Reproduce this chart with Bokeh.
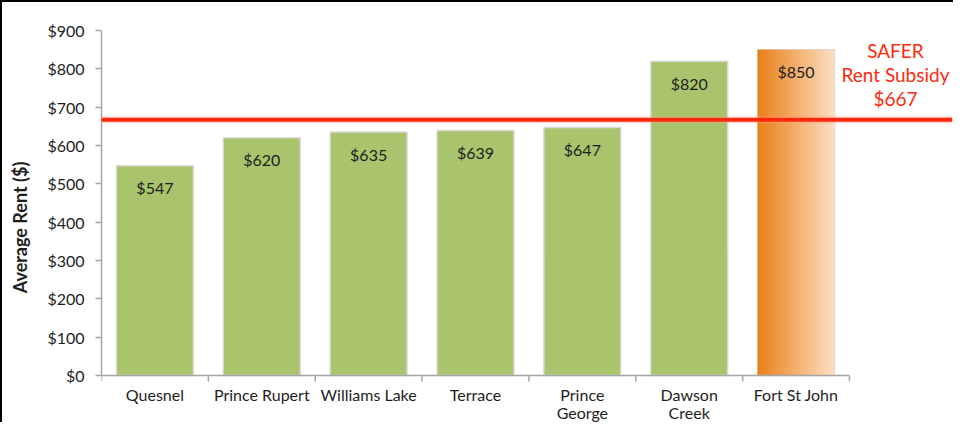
from bokeh.plotting import figure
from bokeh.models import Range1d, FixedTicker, Span, PrintfTickFormatter
from bokeh.core.properties import value
from bokeh.embed import file_html
from bokeh.resources import INLINE

# ---------------- data ----------------
cities = ["Quesnel", "Prince Rupert", "Williams Lake", "Terrace",
          "Prince George", "Dawson Creek", "Fort St John"]
city_labels = ["Quesnel", "Prince Rupert", "Williams Lake", "Terrace",
               "Prince\nGeorge", "Dawson\nCreek", "Fort St John"]
rents = [547, 620, 635, 639, 647, 820, 850]
highlight = "Fort St John"
subsidy = 667
subsidy_lines = ["SAFER", "Rent Subsidy", "$" + str(subsidy)]
y_ticks = [0, 100, 200, 300, 400, 500, 600, 700, 800, 900]
y_label = "Average Rent ($)"

# ---------------- style / layout ----------------
FONT = "Lato"
GREEN = "#A9C46C"
TXT = "#1E1E1E"
AXIS = "#A6A6A6"
RED = "#FF2A0D"
BAR_W = 0.72
GRAD_L = (233, 128, 24)
GRAD_R = (252, 222, 194)
Y_TOP = y_ticks[-1]
PX_PLOT = 345          # pixels between $0 and $900
PX_BELOW = 49          # pixels of frame below the $0 line (category labels)
units_per_px = Y_TOP / PX_PLOT
Y_MIN = -PX_BELOW * units_per_px
TICK_LEN = 6 * units_per_px

n = len(cities)
xs = list(range(n))

p = figure(width=953, height=422, output_backend="svg", toolbar_location=None,
           x_range=Range1d(-0.5, n - 0.5 + 0.964), y_range=Range1d(Y_MIN, Y_TOP),
           x_axis_location=None,
           min_border_left=99, min_border_right=3, min_border_top=28,
           min_border_bottom=0)
p.styles = {"border-left": "2px solid black", "border-top": "2px solid black"}
p.outline_line_color = None
p.xgrid.grid_line_color = None
p.ygrid.grid_line_color = None
p.background_fill_color = "white"
p.border_fill_color = "white"

# green bars
gx = [x for x, c in zip(xs, cities) if c != highlight]
gy = [r for r, c in zip(rents, cities) if c != highlight]
p.vbar(x=gx, top=gy, bottom=0, width=BAR_W, fill_color=GREEN,
       line_color="#DADADA", line_width=1.5)

# gradient (highlighted) bar made of thin strips
hi = cities.index(highlight)
hv = rents[hi]
p.vbar(x=[hi], top=[hv], bottom=0, width=BAR_W, fill_color=None,
       line_color="#DADADA", line_width=1.5)
steps = 60
lefts, rights, cols = [], [], []
for k in range(steps):
    t = k / (steps - 1)
    rgb = tuple(int(round(a + (b - a) * t)) for a, b in zip(GRAD_L, GRAD_R))
    l = hi - BAR_W / 2 + k * BAR_W / steps
    lefts.append(l)
    rights.append(min(l + BAR_W / steps * 1.6, hi + BAR_W / 2))
    cols.append("#%02x%02x%02x" % rgb)
p.quad(left=lefts, right=rights, top=[hv] * steps, bottom=[0] * steps,
       fill_color=cols, line_color=None)

# category axis (line, boundary ticks, labels)
bounds = [x - 0.5 for x in range(n + 1)]
p.segment(x0=[bounds[0]], y0=[0], x1=[bounds[-1]], y1=[0],
          line_color=AXIS, line_width=1.5)
p.segment(x0=bounds, y0=[0] * len(bounds), x1=bounds,
          y1=[-TICK_LEN] * len(bounds), line_color=AXIS, line_width=1.5)
p.text(x=xs, y=[0] * n, text=city_labels, y_offset=9,
       text_align="center", text_baseline="top", text_font=value(FONT),
       text_font_size="16px", text_color=TXT, text_line_height=0.95)

# value labels
p.text(x=xs, y=rents, text=["$" + str(v) for v in rents], y_offset=22,
       text_align="center", text_baseline="middle", text_font=value(FONT),
       text_font_size="16px", text_color=TXT)

# subsidy line
p.add_layout(Span(location=subsidy, dimension="width", line_color="#FF9A8A",
                  line_width=7, line_alpha=0.35))
p.add_layout(Span(location=subsidy, dimension="width", line_color=RED,
                  line_width=4))
p.text(x=[n - 0.07], y=[subsidy], text=["\n".join(subsidy_lines)],
       y_offset=-45, text_align="center", text_baseline="middle",
       text_font=value(FONT), text_font_size="19px", text_color=RED,
       text_line_height=1.04)

# y axis
ya = p.yaxis[0]
ya.ticker = FixedTicker(ticks=y_ticks, minor_ticks=[])
ya.formatter = PrintfTickFormatter(format="$%d")
ya.bounds = (0, Y_TOP)
ya.axis_line_color = AXIS
ya.axis_line_width = 1.5
ya.major_tick_line_color = AXIS
ya.major_tick_line_width = 1.5
ya.major_tick_out = 6
ya.major_tick_in = 0
ya.major_label_standoff = 11
ya.major_label_text_font = FONT
ya.major_label_text_font_size = "16px"
ya.major_label_text_color = TXT
ya.axis_label = y_label
ya.axis_label_text_font = FONT
ya.axis_label_text_font_size = "18px"
ya.axis_label_text_font_style = "bold"
ya.axis_label_text_color = TXT
ya.axis_label_standoff = 13

open("out.html", "w").write(file_html(p, INLINE))
